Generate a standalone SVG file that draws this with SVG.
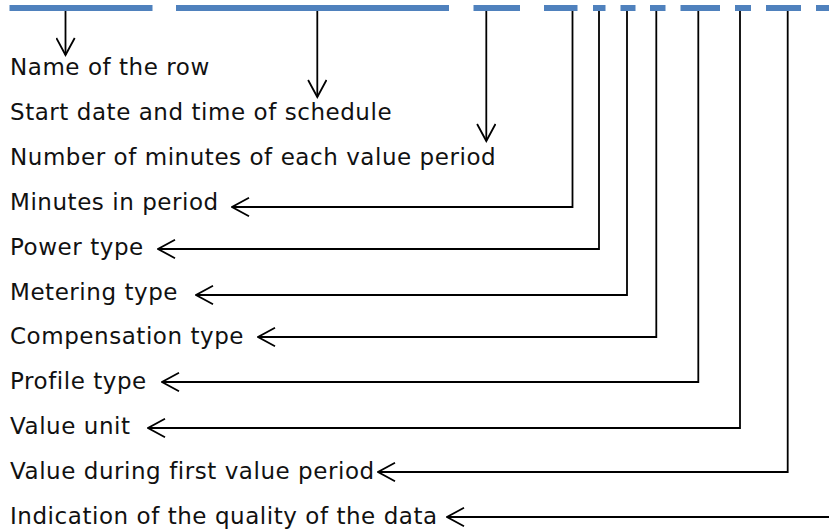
<svg xmlns="http://www.w3.org/2000/svg" width="829" height="529" viewBox="0 0 829 529">
<style>
.lbl{font-family:"DejaVu Sans","Verdana",sans-serif;font-size:23px;letter-spacing:0.55px;fill:#111}
.bar{fill:#4f81bd}
.con{fill:none;stroke:#000;stroke-width:1.8;marker-end:url(#ah)}
</style>
<defs>
<marker id="ah" viewBox="0 0 20 20" refX="18.5" refY="10" markerWidth="20" markerHeight="20" markerUnits="userSpaceOnUse" orient="auto">
<path d="M1.5,0.8 L18.5,10 L1.5,19.2" fill="none" stroke="#000" stroke-width="1.8"/>
</marker>
</defs>
<rect width="829" height="529" fill="#fff"/>
<g id="bar">
<rect class="bar" x="9.5" y="5" width="143" height="6"/>
<rect class="bar" x="176" y="5" width="273" height="6"/>
<rect class="bar" x="473.5" y="5" width="46.5" height="6"/>
<rect class="bar" x="544" y="5" width="33.5" height="6"/>
<rect class="bar" x="593" y="5" width="12.5" height="6"/>
<rect class="bar" x="620.5" y="5" width="15" height="6"/>
<rect class="bar" x="650" y="5" width="15.5" height="6"/>
<rect class="bar" x="680.5" y="5" width="39.5" height="6"/>
<rect class="bar" x="735" y="5" width="16" height="6"/>
<rect class="bar" x="766" y="5" width="35" height="6"/>
<rect class="bar" x="816" y="5" width="13" height="6"/>
</g>
<g id="connectors">
<path class="con" d="M65.5,11 V55"/>
<path class="con" d="M317.3,11 V97"/>
<path class="con" d="M486.3,11 V141"/>
<path class="con" d="M572.5,11 V207 H232"/>
<path class="con" d="M599,11 V249 H158"/>
<path class="con" d="M627,11 V295 H196"/>
<path class="con" d="M656.3,11 V337 H258"/>
<path class="con" d="M698.3,11 V382 H162"/>
<path class="con" d="M740,11 V428 H148"/>
<path class="con" d="M787.7,11 V472 H378"/>
<path class="con" d="M829,517 H447"/>
</g>
<g id="n1"><text class="lbl" x="10" y="75">Name of the row</text></g>
<g id="n2"><text class="lbl" x="10" y="119.9">Start date and time of schedule</text></g>
<g id="n3"><text class="lbl" x="10" y="164.8">Number of minutes of each value period</text></g>
<g id="n4"><text class="lbl" x="10" y="209.7">Minutes in period</text></g>
<g id="n5"><text class="lbl" x="10" y="254.6">Power type</text></g>
<g id="n6"><text class="lbl" x="10" y="299.5">Metering type</text></g>
<g id="n7"><text class="lbl" x="10" y="344.4">Compensation type</text></g>
<g id="n8"><text class="lbl" x="10" y="389.3">Profile type</text></g>
<g id="n9"><text class="lbl" x="10" y="434.2">Value unit</text></g>
<g id="n10"><text class="lbl" x="10" y="479.1">Value during first value period</text></g>
<g id="n11"><text class="lbl" x="10" y="524">Indication of the quality of the data</text></g>
</svg>
